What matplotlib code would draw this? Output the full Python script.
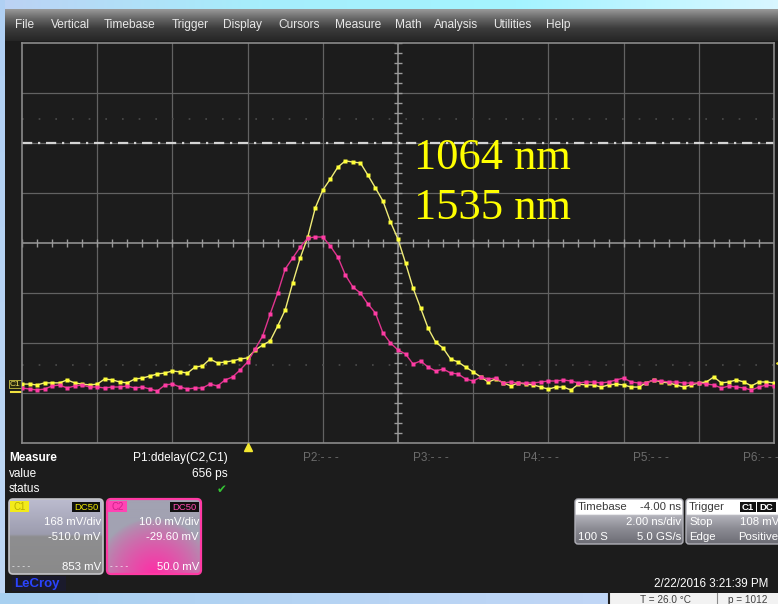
import numpy as np
import matplotlib
matplotlib.use("Agg")
import matplotlib.pyplot as plt
from matplotlib.patches import Rectangle, FancyBboxPatch
from matplotlib.colors import LinearSegmentedColormap, to_rgb

W, H = 778, 604

# ---------------- data ----------------
menu_items = ["File", "Vertical", "Timebase", "Trigger", "Display", "Cursors",
              "Measure", "Math", "Analysis", "Utilities", "Help"]
menu_x = [15, 51, 104, 172, 223, 278, 335, 395, 434, 493, 546]

sample_rate_gsps = 5.0
time_ns = np.arange(101) / sample_rate_gsps - 6.0   # -6 .. 14 ns

c1_mv = [36, 36, 33, 40, 40, 40, 50, 40, 36, 33,
         36, 53, 50, 43, 40, 53, 56, 63, 70, 73,
         80, 77, 73, 93, 97, 120, 107, 110, 114, 120,
         124, 150, 167, 181, 231, 285, 376, 460, 530, 628,
         688, 725, 765, 786, 782, 779, 738, 695, 651, 581,
         523, 443, 359, 292, 224, 177, 157, 120, 110, 93,
         77, 60, 43, 53, 40, 30, 40, 36, 33, 26,
         19, 26, 26, 16, 36, 33, 33, 26, 33, 36,
         33, 26, 26, 40, 50, 43, 40, 33, 26, 33,
         40, 43, 60, 40, 43, 50, 43, 30, 43, 43,
         40]
c2_mv = [0.6, 0.4, 0.2, 0.4, 1.0, 1.2, 0.6, 1.0, 1.2, 0.8,
         0.8, 0.6, 0.8, 0.8, 1.0, 0.6, 0.8, 0.4, 0.0, 1.2,
         1.4, 0.8, 0.4, 0.6, 0.6, 1.4, 1.0, 2.2, 2.8, 4.2,
         5.8, 8.4, 11.0, 15.4, 19.6, 24.4, 26.6, 28.8, 30.6, 30.8,
         30.8, 29.0, 26.8, 23.2, 20.8, 19.6, 17.4, 15.6, 11.6, 9.6,
         8.2, 7.4, 5.4, 6.0, 4.8, 4.0, 4.4, 3.6, 3.4, 2.4,
         2.0, 2.8, 2.4, 2.6, 1.6, 1.8, 1.6, 1.6, 1.6, 1.8,
         2.0, 2.0, 2.2, 2.0, 1.6, 1.8, 1.8, 1.6, 1.8, 2.2,
         2.6, 1.8, 1.6, 1.6, 2.2, 2.0, 1.8, 1.8, 1.6, 1.6,
         1.6, 1.4, 1.2, 0.6, 1.0, 0.8, 0.6, 0.2, 0.8, 1.2,
         1.0]

c1_scale_mv, c1_offset_mv = 168.0, -510.0
c2_scale_mv, c2_offset_mv = 10.0, -29.60
trigger_level_mv = 108.0
ns_per_div = 2.0
delay_ns = -4.00
wavelength_labels = ["1064 nm", "1535 nm"]

measure_rows = ["Measure", "value", "status"]
param_labels = ["P2:- - -", "P3:- - -", "P4:- - -", "P5:- - -", "P6:- - -"]
param_x = [303, 413, 523, 633, 743]

# ---------------- figure ----------------
fig = plt.figure(figsize=(W / 100, H / 100), dpi=100, facecolor="#1c1c1c")
bg = fig.add_axes([0, 0, 1, 1])
bg.set_axis_off()
SANS = "Liberation Sans"


def grad(x0, x1, y0, y1, colors, horizontal=False, clip=None, z=0):
    cmap = LinearSegmentedColormap.from_list("g", colors)
    a = np.linspace(0, 1, 256)
    a = a[None, :] if horizontal else a[:, None]
    im = bg.imshow(a, cmap=cmap, extent=(x0, x1, y1, y0), aspect="auto",
                   origin="upper", zorder=z, interpolation="bilinear")
    if clip is not None:
        im.set_clip_path(clip)
    return im


def txt(x, y, s, size=8, color="white", ha="left", va="center", **kw):
    kw.setdefault("family", SANS)
    return bg.text(x, y, s, fontsize=size, color=color, ha=ha, va=va, **kw)


# window body
bg.add_patch(Rectangle((0, 0), W, H, color="#1c1c1c", zorder=0))
# top desktop strip
grad(0, W, 0, 9, ["#bcd2f4", "#a6eefc", "#a4f4ff", "#d8f6ff"], horizontal=True)
# left desktop strip
grad(0, 5, 0, H, ["#b0d0f4", "#c0d8f4"])
# bottom desktop strip
grad(0, W, 593, H, ["#a8d0f0", "#b8d4f4", "#c8d8f8"], horizontal=True)
# menu bar
grad(5, W, 9, 41, [(0, "#9a9a9a"), (0.3, "#666666"), (0.6, "#3c3c3c"), (1, "#262626")])
for s, x in zip(menu_items, menu_x):
    txt(x, 25, s, size=8.6, color="#e8e8e8")

# ---------------- scope grid & traces ----------------
gx0, gx1, gy0, gy1 = 22, 774, 43, 443
ax = fig.add_axes([gx0 / W, 1 - gy1 / H, (gx1 - gx0) / W, (gy1 - gy0) / H])
ax.set_facecolor("#1c1c1c")
ax.set_xlim(-6, 14)
ax.set_ylim(-4, 4)
ax.set_xticks([])
ax.set_yticks([])
for sp in ax.spines.values():
    sp.set_color("#8a8a8a")
    sp.set_linewidth(1.2)

for xv in np.arange(-4, 14, ns_per_div):
    lw, col = (1.1, "#9a9a9a") if np.isclose(xv, 4) else (0.9, "#626262")
    ax.axvline(xv, color=col, lw=lw, zorder=1)
for yv in range(-3, 4):
    lw, col = (1.1, "#9a9a9a") if yv == 0 else (0.9, "#626262")
    ax.axhline(yv, color=col, lw=lw, zorder=1)
ax.vlines(np.arange(-6, 14.01, 0.4), -0.08, 0.08, color="#9a9a9a", lw=1.0, zorder=1)
ax.hlines(np.arange(-4, 4.01, 0.2), 4 - 0.1, 4 + 0.1, color="#9a9a9a", lw=1.0, zorder=1)
# faint ghost dotted rows
ax.axhline(2.48, color="#4c4c4c", lw=1.2, ls=(0, (1, 9)), zorder=1)
ax.axhline(-2.44, color="#4c4c4c", lw=1.2, ls=(0, (1, 9)), zorder=1)
# dash-dot reference line
ax.axhline(2.0, color="#d4d4d4", lw=1.6, ls=(0, (4.6, 2.6, 1.0, 2.6)), zorder=2)

# C1 axes (mV scale)
ax1 = ax.twinx()
c1_center = -c1_offset_mv
ax1.set_ylim(c1_center - 4 * c1_scale_mv, c1_center + 4 * c1_scale_mv)
ax1.axis("off")
ax1.plot(time_ns, c1_mv, color="#f0ec78", lw=1.0, marker="s", ms=2.3,
         mfc="#ffff38", mec="none", zorder=3)
ax1.plot([14.12], [trigger_level_mv], marker="<", ms=4, color="#f4e830",
         clip_on=False, zorder=4)

# C2 axes (mV scale)
ax2 = ax.twinx()
c2_center = -c2_offset_mv
ax2.set_ylim(c2_center - 4 * c2_scale_mv, c2_center + 4 * c2_scale_mv)
ax2.axis("off")
ax2.plot(time_ns, c2_mv, color="#e0348e", lw=1.0, marker="s", ms=2.3,
         mfc="#ff3ca4", mec="none", zorder=3)

# trigger time marker
ax.plot([0], [-4.07], marker="^", ms=6, color="#f4e830", clip_on=False, zorder=5)

# wavelength labels
fig.text(414 / W, 1 - 169 / H, wavelength_labels[0], fontsize=32,
         family="Liberation Serif", color="#ffff00", va="baseline")
fig.text(414 / W, 1 - 219 / H, wavelength_labels[1], fontsize=32,
         family="Liberation Serif", color="#ffff00", va="baseline")

# C1 ground marker at left
txt(15.5, 384, "C1", size=6, color="#f0e060", ha="center",
    bbox=dict(boxstyle="square,pad=0.1", fc="#2a2a10", ec="#c8c040", lw=0.6))
bg.plot([11, 22], [392, 392], color="#f0e040", lw=1.5)

# ---------------- measure panel ----------------
txt(9, 458, measure_rows[0], size=8.5, weight="bold")
txt(9, 474, measure_rows[1], size=8.5)
txt(9, 489, measure_rows[2], size=8.5)
txt(228, 458, "P1:ddelay(C2,C1)", size=8.6, ha="right")
txt(228, 474, "656 ps", size=8.6, ha="right")
txt(222, 489, "\u2714", size=8.5, color="#34c434", ha="center", family="DejaVu Sans")
for s, x in zip(param_labels, param_x):
    txt(x, 458, s, size=8.5, color="#6c6c6c")

# C1 channel box
b1 = FancyBboxPatch((9, 499), 94, 75, boxstyle="round,pad=0,rounding_size=4",
                    fc="none", ec="#c4c4c8", lw=1.2, zorder=3)
bg.add_patch(b1)
grad(9, 103, 499, 574, [(0, "#bcbccf"), (0.47, "#9c9cae"), (0.5, "#8e8e90"), (1, "#8a8a8a")],
     clip=b1, z=2)
bg.add_patch(Rectangle((10, 501), 19, 11, fc="#f2ea1a", ec="none", zorder=4))
txt(19.5, 506.5, "C1", size=7, color="#b8ae00", ha="center", zorder=5)
bg.add_patch(Rectangle((72, 502), 28, 10, fc="#101010", ec="none", zorder=4))
txt(86, 507, "DC50", size=6.8, color="#f0e800", ha="center", zorder=5)
txt(101, 522, f"{c1_scale_mv:.0f} mV/div", size=8.2, ha="right", zorder=5)
txt(101, 537, f"{c1_offset_mv:.1f} mV", size=8.2, ha="right", zorder=5)
txt(101, 567, "853 mV", size=8.2, ha="right", zorder=5)
txt(12, 567, "- - - -", size=6, zorder=5)

# C2 channel box
b2 = FancyBboxPatch((107, 499), 94, 75, boxstyle="round,pad=0,rounding_size=4",
                    fc="none", ec="#ff3aa4", lw=1.6, zorder=3)
bg.add_patch(b2)
hh, ww = 76, 94
yy, xx = np.mgrid[0:hh, 0:ww]
d = np.sqrt(((xx - ww / 2) / (ww * 0.62)) ** 2 + ((yy - hh) / (hh * 0.75)) ** 2)
f = np.clip(1 - d, 0, 1) ** 0.7
gray = np.array(to_rgb("#a2a2b2"))
pink = np.array(to_rgb("#ff2ea6"))
rgb = gray * (1 - f[..., None]) + pink * f[..., None]
im2 = bg.imshow(rgb, extent=(107, 201, 574, 499), aspect="auto", origin="upper",
                zorder=2, interpolation="bilinear")
im2.set_clip_path(b2)
bg.add_patch(Rectangle((108, 501), 19, 11, fc="#ff44b4", ec="none", zorder=4))
txt(117.5, 506.5, "C2", size=7, color="#d0208a", ha="center", zorder=5)
bg.add_patch(Rectangle((170, 502), 29, 10, fc="#101010", ec="none", zorder=4))
txt(184.5, 507, "DC50", size=6.8, color="#ff4cb0", ha="center", zorder=5)
txt(199, 522, f"{c2_scale_mv:.1f} mV/div", size=8.2, ha="right", zorder=5)
txt(199, 537, f"{c2_offset_mv:.2f} mV", size=8.2, ha="right", zorder=5)
txt(199, 567, "50.0 mV", size=8.2, ha="right", zorder=5)
txt(110, 567, "- - - -", size=6, zorder=5)

# LeCroy logo
bg.add_patch(Rectangle((12, 576), 54, 15, fc="#1a1a2c", ec="none", zorder=3))
txt(14, 584, "LeCroy", size=9.5, color="#2a44ff", weight="bold", zorder=4)

# Timebase box
tb = FancyBboxPatch((575, 499), 108, 45, boxstyle="round,pad=0,rounding_size=3",
                    fc="none", ec="#b0b0b8", lw=1.0, zorder=3)
bg.add_patch(tb)
grad(575, 683, 499, 544, [(0, "#ffffff"), (0.34, "#ffffff"), (0.36, "#b4b4bc"),
                          (0.65, "#8c8c94"), (1, "#6c6c74")], clip=tb, z=2)
txt(578, 507, "Timebase", size=8.2, color="#3a3a3a", zorder=4)
txt(681, 507, f"{delay_ns:.2f} ns", size=8.2, color="#3a3a3a", ha="right", zorder=4)
txt(681, 522, f"{ns_per_div:.2f} ns/div", size=8.2, ha="right", zorder=4)
txt(578, 537, "100 S", size=8.2, zorder=4)
txt(681, 537, f"{sample_rate_gsps:.1f} GS/s", size=8.2, ha="right", zorder=4)

# Trigger box
tr = FancyBboxPatch((686, 499), 100, 45, boxstyle="round,pad=0,rounding_size=3",
                    fc="none", ec="#b0b0b8", lw=1.0, zorder=3)
bg.add_patch(tr)
grad(686, 786, 499, 544, [(0, "#ffffff"), (0.34, "#ffffff"), (0.36, "#b4b4bc"),
                          (0.65, "#8c8c94"), (1, "#6c6c74")], clip=tr, z=2)
txt(689, 507, "Trigger", size=8.2, color="#3a3a3a", zorder=4)
bg.add_patch(Rectangle((740, 502), 16, 10, fc="#111111", ec="none", zorder=4))
txt(748, 507, "C1", size=6.8, color="white", ha="center", weight="bold", zorder=5)
bg.add_patch(Rectangle((757, 502), 19, 10, fc="#111111", ec="none", zorder=4))
txt(766.5, 507, "DC", size=6.8, color="white", ha="center", weight="bold", zorder=5)
txt(689, 522, "Stop", size=8.2, zorder=4)
txt(779, 522, f"{trigger_level_mv:.0f} mV", size=8.2, ha="right", zorder=4)
txt(689, 537, "Edge", size=8.2, zorder=4)
txt(778, 537, "Positive", size=8.2, ha="right", zorder=4)

# date
txt(768, 584, "2/22/2016 3:21:39 PM", size=8.4, ha="right")

# bottom-right status window
bg.add_patch(Rectangle((610, 593), 170, 12, fc="#f2f2f2", ec="none", zorder=3))
bg.plot([609, 609], [591, 604], color="#202020", lw=1.5, zorder=4)
bg.plot([717, 717], [593, 604], color="#8a8a8a", lw=0.8, zorder=4)
txt(640, 600, "T = 26.0 \u00b0C", size=7.2, color="#404040", zorder=4)
txt(728, 600, "p = 1012", size=7.2, color="#404040", zorder=4)

bg.set_xlim(0, W)
bg.set_ylim(H, 0)

fig.savefig("out.png", dpi=100, facecolor=fig.get_facecolor())
